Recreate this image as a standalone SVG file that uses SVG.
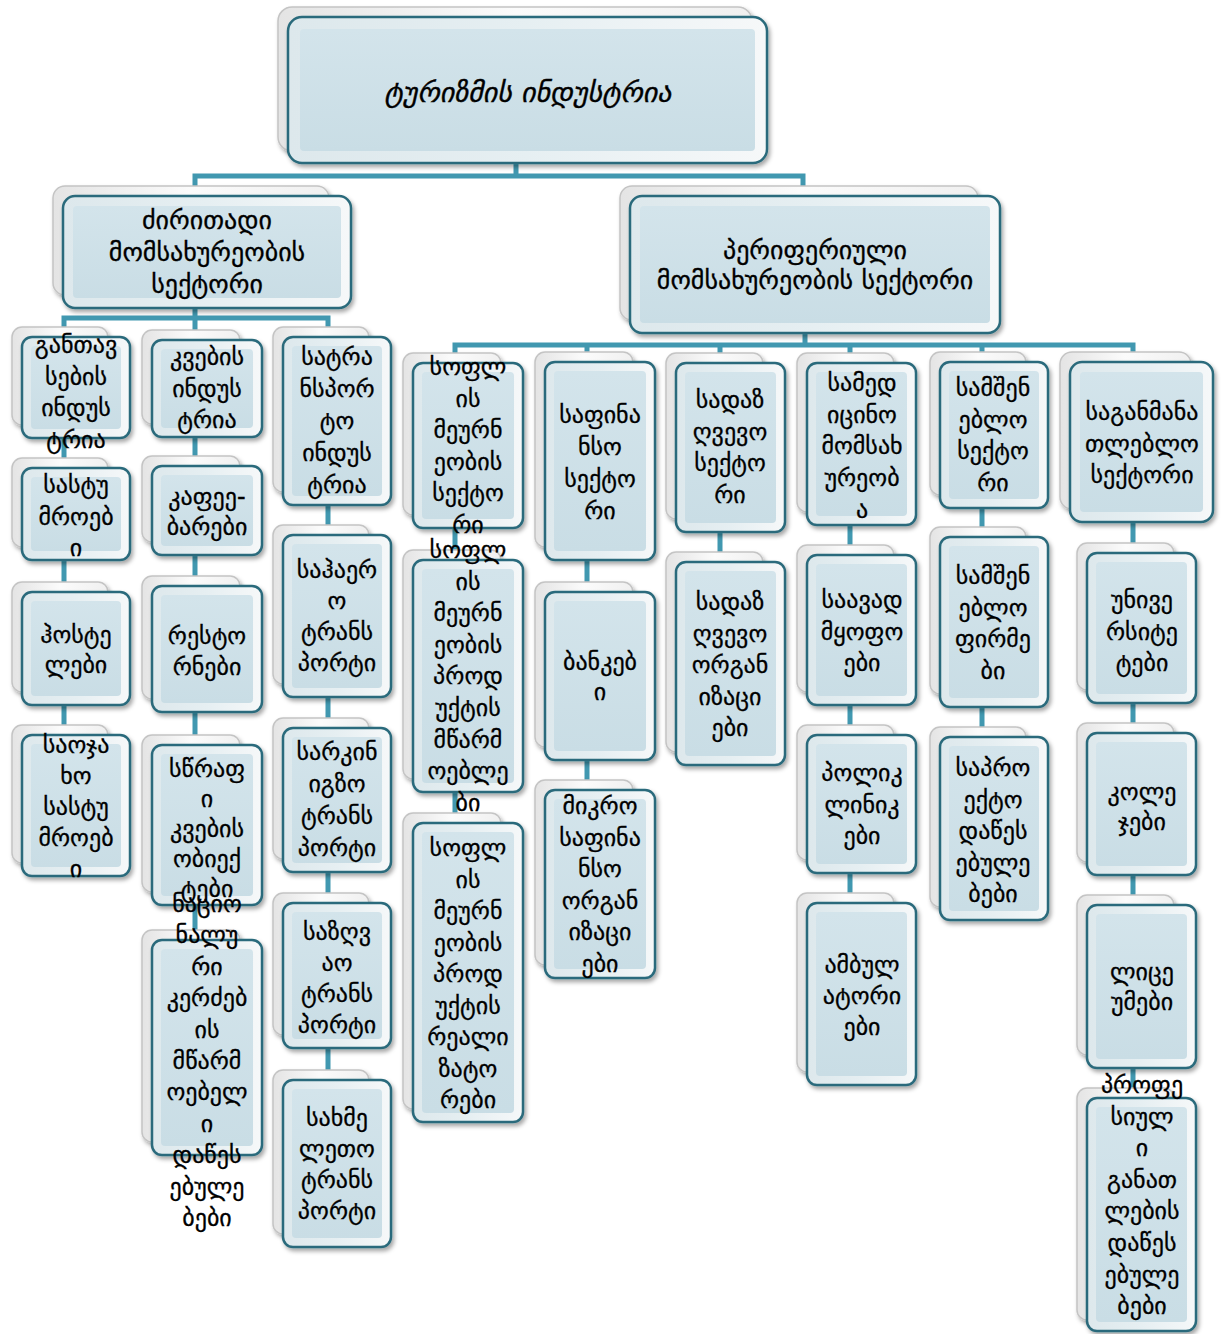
<svg xmlns="http://www.w3.org/2000/svg" width="1225" height="1334" viewBox="0 0 1225 1334">
<defs>
<linearGradient id="gb" x1="0" y1="0" x2="1" y2="0"><stop offset="0" stop-color="#e4e4e4"/><stop offset="0.5" stop-color="#fbfbfb"/><stop offset="1" stop-color="#f0f0f0"/></linearGradient>
<linearGradient id="gf" x1="0" y1="0" x2="1" y2="0"><stop offset="0" stop-color="#dde8ec"/><stop offset="0.5" stop-color="#e6eff2"/><stop offset="1" stop-color="#f6f8f9"/></linearGradient>
<linearGradient id="gi" x1="0" y1="0" x2="0" y2="1"><stop offset="0" stop-color="#d3e4eb"/><stop offset="1" stop-color="#c9dde5"/></linearGradient>
<filter id="sh" x="-10%" y="-10%" width="130%" height="130%"><feDropShadow dx="2" dy="3" stdDeviation="2" flood-color="#000" flood-opacity="0.35"/></filter>
</defs>
<style>
.bk{fill:url(#gb);stroke:#c4c4c4;stroke-width:1.5;filter:url(#sh)}
.fr{fill:url(#gf);stroke:#2b6b7b;stroke-width:2.5;filter:url(#sh)}
.in{fill:url(#gi)}
.t{font-family:"DejaVu Sans",sans-serif;font-size:24px;text-anchor:middle;fill:#000;stroke:#000;stroke-width:0.3}
.l1{font-size:26px}
.tt{font-family:"DejaVu Sans",sans-serif;font-size:28px;font-style:italic;text-anchor:middle;fill:#000;stroke:#000;stroke-width:0.4}
.c{stroke:#4198b0;stroke-width:5;fill:none}
</style>
<rect width="1225" height="1334" fill="#fff"/>
<g id="connectors">
<path class="c" d="M516,163 V176 M195,197 V176 H803 V197"/>
<path class="c" d="M195,308 V318 M64,340 V318 H328 V340 M64,318 V735 M195,318 V940 M328,318 V1080"/>
<path class="c" d="M805,333 V345 M455,363 V345 H1133 V363 M455,345 V823 M587,345 V790 M720,345 V562 M850,345 V903 M982,345 V737 M1133,345 V1098"/>
</g>
<g id="n-title"><rect class="bk" x="278" y="7" width="474" height="144" rx="14"/><rect class="fr" x="288" y="17" width="479" height="146" rx="14"/><rect class="in" x="300" y="29" width="455" height="122" rx="4"/><text class="tt" x="528" y="102">ტურიზმის ინდუსტრია</text></g>
<g id="n-main"><rect class="bk" x="53" y="186" width="276" height="109" rx="12"/><rect class="fr" x="63" y="196" width="288" height="112" rx="12"/><rect class="in" x="73" y="206" width="268" height="92" rx="4"/><text class="t l1" x="207" y="229">ძირითადი<tspan x="207" dy="32">მომსახურეობის</tspan><tspan x="207" dy="32">სექტორი</tspan></text></g>
<g id="n-peri"><rect class="bk" x="620" y="186" width="358" height="134" rx="12"/><rect class="fr" x="630" y="196" width="370" height="137" rx="12"/><rect class="in" x="640" y="206" width="350" height="117" rx="4"/><text class="t l1" x="815" y="259">პერიფერიული<tspan x="815" dy="30">მომსახურეობის სექტორი</tspan></text></g>

<g id="n-c1a"><rect class="bk" x="12" y="327" width="96" height="98" rx="10"/><rect class="fr" x="22" y="337" width="108" height="101" rx="10"/><rect class="in" x="31" y="346" width="90" height="83" rx="4"/><text class="t" x="76" y="353">განთავ<tspan x="76" dy="31.5">სების</tspan><tspan x="76" dy="31.5">ინდუს</tspan><tspan x="76" dy="31.5">ტრია</tspan></text></g>
<g id="n-c1b"><rect class="bk" x="12" y="458" width="96" height="89" rx="10"/><rect class="fr" x="22" y="468" width="108" height="92" rx="10"/><rect class="in" x="31" y="477" width="90" height="74" rx="4"/><text class="t" x="76" y="493">სასტუ<tspan x="76" dy="31.5">მროებ</tspan><tspan x="76" dy="31.5">ი</tspan></text></g>
<g id="n-c1c"><rect class="bk" x="12" y="582" width="96" height="110" rx="10"/><rect class="fr" x="22" y="592" width="108" height="113" rx="10"/><rect class="in" x="31" y="601" width="90" height="95" rx="4"/><text class="t" x="76" y="643">ჰოსტე<tspan x="76" dy="30">ლები</tspan></text></g>
<g id="n-c1d"><rect class="bk" x="12" y="725" width="96" height="138" rx="10"/><rect class="fr" x="22" y="735" width="108" height="141" rx="10"/><rect class="in" x="31" y="744" width="90" height="123" rx="4"/><text class="t" x="76" y="753">საოჯა<tspan x="76" dy="31">ხო</tspan><tspan x="76" dy="31">სასტუ</tspan><tspan x="76" dy="31">მროებ</tspan><tspan x="76" dy="31">ი</tspan></text></g>

<g id="n-c2a"><rect class="bk" x="142" y="330" width="98" height="94" rx="10"/><rect class="fr" x="152" y="340" width="110" height="97" rx="10"/><rect class="in" x="161" y="349" width="92" height="79" rx="4"/><text class="t" x="207" y="365">კვების<tspan x="207" dy="31.5">ინდუს</tspan><tspan x="207" dy="31.5">ტრია</tspan></text></g>
<g id="n-c2b"><rect class="bk" x="142" y="456" width="98" height="86" rx="10"/><rect class="fr" x="152" y="466" width="110" height="89" rx="10"/><rect class="in" x="161" y="475" width="92" height="71" rx="4"/><text class="t" x="207" y="505">კაფეე-<tspan x="207" dy="30">ბარები</tspan></text></g>
<g id="n-c2c"><rect class="bk" x="142" y="576" width="98" height="123" rx="10"/><rect class="fr" x="152" y="586" width="110" height="126" rx="10"/><rect class="in" x="161" y="595" width="92" height="108" rx="4"/><text class="t" x="207" y="644">რესტო<tspan x="207" dy="31">რნები</tspan></text></g>
<g id="n-c2d"><rect class="bk" x="142" y="735" width="98" height="157" rx="10"/><rect class="fr" x="152" y="745" width="110" height="160" rx="10"/><rect class="in" x="161" y="754" width="92" height="142" rx="4"/><text class="t" x="207" y="777">სწრაფ<tspan x="207" dy="30">ი</tspan><tspan x="207" dy="30">კვების</tspan><tspan x="207" dy="30">ობიექ</tspan><tspan x="207" dy="30">ტები</tspan></text></g>
<g id="n-c2e"><rect class="bk" x="142" y="930" width="98" height="212" rx="10"/><rect class="fr" x="152" y="940" width="110" height="215" rx="10"/><rect class="in" x="161" y="949" width="92" height="197" rx="4"/><text class="t" x="207" y="912">ნაციო<tspan x="207" dy="31.4">ნალუ</tspan><tspan x="207" dy="31.4">რი</tspan><tspan x="207" dy="31.4">კერძებ</tspan><tspan x="207" dy="31.4">ის</tspan><tspan x="207" dy="31.4">მწარმ</tspan><tspan x="207" dy="31.4">ოებელ</tspan><tspan x="207" dy="31.4">ი</tspan><tspan x="207" dy="31.4">დაწეს</tspan><tspan x="207" dy="31.4">ებულე</tspan><tspan x="207" dy="31.4">ბები</tspan></text></g>

<g id="n-c3a"><rect class="bk" x="273" y="327" width="96" height="165" rx="10"/><rect class="fr" x="283" y="337" width="108" height="168" rx="10"/><rect class="in" x="292" y="346" width="90" height="150" rx="4"/><text class="t" x="337" y="365">სატრა<tspan x="337" dy="32">ნსპორ</tspan><tspan x="337" dy="32">ტო</tspan><tspan x="337" dy="32">ინდუს</tspan><tspan x="337" dy="32">ტრია</tspan></text></g>
<g id="n-c3b"><rect class="bk" x="273" y="525" width="96" height="159" rx="10"/><rect class="fr" x="283" y="535" width="108" height="162" rx="10"/><rect class="in" x="292" y="544" width="90" height="144" rx="4"/><text class="t" x="337" y="578">საჰაერ<tspan x="337" dy="31">ო</tspan><tspan x="337" dy="31">ტრანს</tspan><tspan x="337" dy="31">პორტი</tspan></text></g>
<g id="n-c3c"><rect class="bk" x="273" y="718" width="96" height="141" rx="10"/><rect class="fr" x="283" y="728" width="108" height="144" rx="10"/><rect class="in" x="292" y="737" width="90" height="126" rx="4"/><text class="t" x="337" y="760">სარკინ<tspan x="337" dy="32">იგზო</tspan><tspan x="337" dy="32">ტრანს</tspan><tspan x="337" dy="32">პორტი</tspan></text></g>
<g id="n-c3d"><rect class="bk" x="273" y="893" width="96" height="142" rx="10"/><rect class="fr" x="283" y="903" width="108" height="145" rx="10"/><rect class="in" x="292" y="912" width="90" height="127" rx="4"/><text class="t" x="337" y="940">საზღვ<tspan x="337" dy="31">აო</tspan><tspan x="337" dy="31">ტრანს</tspan><tspan x="337" dy="31">პორტი</tspan></text></g>
<g id="n-c3e"><rect class="bk" x="273" y="1070" width="96" height="164" rx="10"/><rect class="fr" x="283" y="1080" width="108" height="167" rx="10"/><rect class="in" x="292" y="1089" width="90" height="149" rx="4"/><text class="t" x="337" y="1126">სახმე<tspan x="337" dy="31">ლეთო</tspan><tspan x="337" dy="31">ტრანს</tspan><tspan x="337" dy="31">პორტი</tspan></text></g>

<g id="n-ra1"><rect class="bk" x="403" y="353" width="98" height="162" rx="10"/><rect class="fr" x="413" y="363" width="110" height="165" rx="10"/><rect class="in" x="422" y="372" width="92" height="147" rx="4"/><text class="t" x="468" y="375">სოფლ<tspan x="468" dy="31.6">ის</tspan><tspan x="468" dy="31.6">მეურნ</tspan><tspan x="468" dy="31.6">ეობის</tspan><tspan x="468" dy="31.6">სექტო</tspan><tspan x="468" dy="31.6">რი</tspan></text></g>
<g id="n-ra2"><rect class="bk" x="403" y="550" width="98" height="229" rx="10"/><rect class="fr" x="413" y="560" width="110" height="232" rx="10"/><rect class="in" x="422" y="569" width="92" height="214" rx="4"/><text class="t" x="468" y="558">სოფლ<tspan x="468" dy="31.6">ის</tspan><tspan x="468" dy="31.6">მეურნ</tspan><tspan x="468" dy="31.6">ეობის</tspan><tspan x="468" dy="31.6">პროდ</tspan><tspan x="468" dy="31.6">უქტის</tspan><tspan x="468" dy="31.6">მწარმ</tspan><tspan x="468" dy="31.6">ოებლე</tspan><tspan x="468" dy="31.6">ბი</tspan></text></g>
<g id="n-ra3"><rect class="bk" x="403" y="813" width="98" height="296" rx="10"/><rect class="fr" x="413" y="823" width="110" height="299" rx="10"/><rect class="in" x="422" y="832" width="92" height="281" rx="4"/><text class="t" x="468" y="856">სოფლ<tspan x="468" dy="31.5">ის</tspan><tspan x="468" dy="31.5">მეურნ</tspan><tspan x="468" dy="31.5">ეობის</tspan><tspan x="468" dy="31.5">პროდ</tspan><tspan x="468" dy="31.5">უქტის</tspan><tspan x="468" dy="31.5">რეალი</tspan><tspan x="468" dy="31.5">ზატო</tspan><tspan x="468" dy="31.5">რები</tspan></text></g>

<g id="n-rb1"><rect class="bk" x="535" y="352" width="98" height="195" rx="10"/><rect class="fr" x="545" y="362" width="110" height="198" rx="10"/><rect class="in" x="554" y="371" width="92" height="180" rx="4"/><text class="t" x="600" y="423">საფინა<tspan x="600" dy="32">ნსო</tspan><tspan x="600" dy="32">სექტო</tspan><tspan x="600" dy="32">რი</tspan></text></g>
<g id="n-rb2"><rect class="bk" x="535" y="582" width="98" height="165" rx="10"/><rect class="fr" x="545" y="592" width="110" height="168" rx="10"/><rect class="in" x="554" y="601" width="92" height="150" rx="4"/><text class="t" x="600" y="670">ბანკებ<tspan x="600" dy="30">ი</tspan></text></g>
<g id="n-rb3"><rect class="bk" x="535" y="780" width="98" height="185" rx="10"/><rect class="fr" x="545" y="790" width="110" height="188" rx="10"/><rect class="in" x="554" y="799" width="92" height="170" rx="4"/><text class="t" x="600" y="814">მიკრო<tspan x="600" dy="31.6">საფინა</tspan><tspan x="600" dy="31.6">ნსო</tspan><tspan x="600" dy="31.6">ორგან</tspan><tspan x="600" dy="31.6">იზაცი</tspan><tspan x="600" dy="31.6">ები</tspan></text></g>

<g id="n-rc1"><rect class="bk" x="666" y="353" width="97" height="166" rx="10"/><rect class="fr" x="676" y="363" width="109" height="169" rx="10"/><rect class="in" x="685" y="372" width="91" height="151" rx="4"/><text class="t" x="730" y="408">სადაზ<tspan x="730" dy="31.7">ღვევო</tspan><tspan x="730" dy="31.7">სექტო</tspan><tspan x="730" dy="31.7">რი</tspan></text></g>
<g id="n-rc2"><rect class="bk" x="666" y="552" width="97" height="200" rx="10"/><rect class="fr" x="676" y="562" width="109" height="203" rx="10"/><rect class="in" x="685" y="571" width="91" height="185" rx="4"/><text class="t" x="730" y="610">სადაზ<tspan x="730" dy="31.5">ღვევო</tspan><tspan x="730" dy="31.5">ორგან</tspan><tspan x="730" dy="31.5">იზაცი</tspan><tspan x="730" dy="31.5">ები</tspan></text></g>

<g id="n-rd1"><rect class="bk" x="797" y="353" width="97" height="159" rx="10"/><rect class="fr" x="807" y="363" width="109" height="162" rx="10"/><rect class="in" x="816" y="372" width="91" height="144" rx="4"/><text class="t" x="862" y="391">სამედ<tspan x="862" dy="31.7">იცინო</tspan><tspan x="862" dy="31.7">მომსახ</tspan><tspan x="862" dy="31.7">ურეობ</tspan><tspan x="862" dy="31.7">ა</tspan></text></g>
<g id="n-rd2"><rect class="bk" x="797" y="545" width="97" height="147" rx="10"/><rect class="fr" x="807" y="555" width="109" height="150" rx="10"/><rect class="in" x="816" y="564" width="91" height="132" rx="4"/><text class="t" x="862" y="608">საავად<tspan x="862" dy="31.5">მყოფო</tspan><tspan x="862" dy="31.5">ები</tspan></text></g>
<g id="n-rd3"><rect class="bk" x="797" y="725" width="97" height="135" rx="10"/><rect class="fr" x="807" y="735" width="109" height="138" rx="10"/><rect class="in" x="816" y="744" width="91" height="120" rx="4"/><text class="t" x="862" y="781">პოლიკ<tspan x="862" dy="31.5">ლინიკ</tspan><tspan x="862" dy="31.5">ები</tspan></text></g>
<g id="n-rd4"><rect class="bk" x="797" y="893" width="97" height="179" rx="10"/><rect class="fr" x="807" y="903" width="109" height="182" rx="10"/><rect class="in" x="816" y="912" width="91" height="164" rx="4"/><text class="t" x="862" y="973">ამბულ<tspan x="862" dy="31">ატორი</tspan><tspan x="862" dy="31">ები</tspan></text></g>

<g id="n-re1"><rect class="bk" x="930" y="352" width="96" height="143" rx="10"/><rect class="fr" x="940" y="362" width="108" height="146" rx="10"/><rect class="in" x="949" y="371" width="90" height="128" rx="4"/><text class="t" x="993" y="396">სამშენ<tspan x="993" dy="31.7">ებლო</tspan><tspan x="993" dy="31.7">სექტო</tspan><tspan x="993" dy="31.7">რი</tspan></text></g>
<g id="n-re2"><rect class="bk" x="930" y="527" width="96" height="167" rx="10"/><rect class="fr" x="940" y="537" width="108" height="170" rx="10"/><rect class="in" x="949" y="546" width="90" height="152" rx="4"/><text class="t" x="993" y="584">სამშენ<tspan x="993" dy="31.5">ებლო</tspan><tspan x="993" dy="31.5">ფირმე</tspan><tspan x="993" dy="31.5">ბი</tspan></text></g>
<g id="n-re3"><rect class="bk" x="930" y="727" width="96" height="180" rx="10"/><rect class="fr" x="940" y="737" width="108" height="183" rx="10"/><rect class="in" x="949" y="746" width="90" height="165" rx="4"/><text class="t" x="993" y="776">საპრო<tspan x="993" dy="31.5">ექტო</tspan><tspan x="993" dy="31.5">დაწეს</tspan><tspan x="993" dy="31.5">ებულე</tspan><tspan x="993" dy="31.5">ბები</tspan></text></g>

<g id="n-rf1"><rect class="bk" x="1060" y="352" width="131" height="157" rx="12"/><rect class="fr" x="1070" y="362" width="143" height="160" rx="12"/><rect class="in" x="1080" y="372" width="123" height="140" rx="4"/><text class="t" x="1142" y="420">საგანმანა<tspan x="1142" dy="31.5">თლებლო</tspan><tspan x="1142" dy="31.5">სექტორი</tspan></text></g>
<g id="n-rf2"><rect class="bk" x="1077" y="543" width="97" height="147" rx="10"/><rect class="fr" x="1087" y="553" width="109" height="150" rx="10"/><rect class="in" x="1096" y="562" width="91" height="132" rx="4"/><text class="t" x="1142" y="608">უნივე<tspan x="1142" dy="31.5">რსიტე</tspan><tspan x="1142" dy="31.5">ტები</tspan></text></g>
<g id="n-rf3"><rect class="bk" x="1077" y="723" width="97" height="139" rx="10"/><rect class="fr" x="1087" y="733" width="109" height="142" rx="10"/><rect class="in" x="1096" y="742" width="91" height="124" rx="4"/><text class="t" x="1142" y="800">კოლე<tspan x="1142" dy="30">ჯები</tspan></text></g>
<g id="n-rf4"><rect class="bk" x="1077" y="895" width="97" height="160" rx="10"/><rect class="fr" x="1087" y="905" width="109" height="163" rx="10"/><rect class="in" x="1096" y="914" width="91" height="145" rx="4"/><text class="t" x="1142" y="980">ლიცე<tspan x="1142" dy="30">უმები</tspan></text></g>
<g id="n-rf5"><rect class="bk" x="1077" y="1088" width="97" height="232" rx="10"/><rect class="fr" x="1087" y="1098" width="109" height="233" rx="10"/><rect class="in" x="1096" y="1107" width="91" height="215" rx="4"/><text class="t" x="1142" y="1093">პროფე<tspan x="1142" dy="31.6">სიულ</tspan><tspan x="1142" dy="31.6">ი</tspan><tspan x="1142" dy="31.6">განათ</tspan><tspan x="1142" dy="31.6">ლების</tspan><tspan x="1142" dy="31.6">დაწეს</tspan><tspan x="1142" dy="31.6">ებულე</tspan><tspan x="1142" dy="31.6">ბები</tspan></text></g>
</svg>
